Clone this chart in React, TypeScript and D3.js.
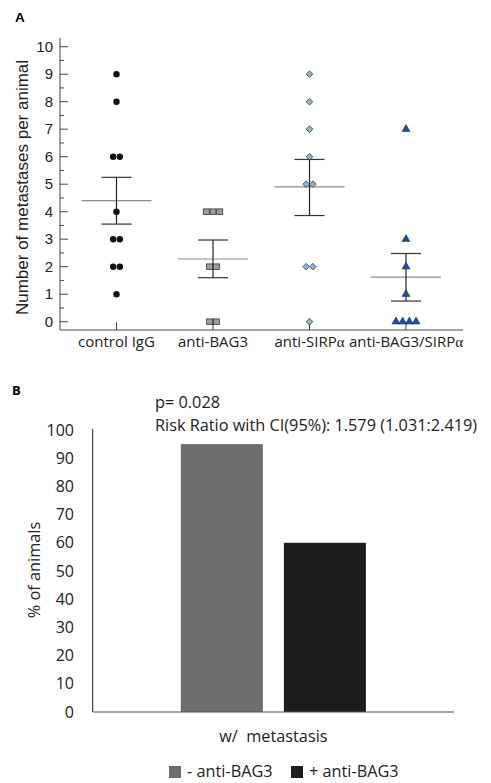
import React, { useEffect, useRef } from 'react';
import * as d3 from 'd3';

// Panel A: metastases per animal
const groups = ['control IgG', 'anti-BAG3', 'anti-SIRP', 'anti-BAG3/SIRP'];
const controlIgG = [9, 8, 6, 6, 4, 3, 3, 2, 2, 1];
const antiBAG3 = [4, 4, 4, 2, 2, 0, 0];
const antiSIRPa = [9, 8, 7, 6, 5, 5, 2, 2, 0];
const antiBoth = [7, 3, 2, 1, 0, 0, 0, 0];
const groupMeans = [4.4, 2.28, 4.9, 1.62];
const groupLow = [3.55, 1.6, 3.86, 0.75];
const groupHigh = [5.25, 2.97, 5.9, 2.48];
const yTicksA = [0, 1, 2, 3, 4, 5, 6, 7, 8, 9, 10];

// Panel B: % animals with metastasis
const categoriesB = ['w/  metastasis'];
const seriesB = ['- anti-BAG3', '+ anti-BAG3'];
const valuesB = [95, 60];
const yTicksB = [0, 10, 20, 30, 40, 50, 60, 70, 80, 90, 100];
const pText = 'p= 0.028';
const rrText = 'Risk Ratio with CI(95%): 1.579 (1.031:2.419)';

const App = () => {
  const ref = useRef<SVGSVGElement>(null);

  useEffect(() => {
    const svg = d3.select(ref.current);
    svg.selectAll('*').remove();

    const arial = 'Liberation Sans, Arial, sans-serif';
    const calibri = 'Open Sans, Lato, sans-serif';
    const fs = 16.3;

    // ---------- Panel A ----------
    svg.append('text').attr('x', 15).attr('y', 22).attr('font-family', arial)
      .attr('font-weight', 'bold').attr('font-size', 13.5).text('A');

    const yA = d3.scaleLinear().domain([0, 10]).range([321.7, 46.7]);
    const xA = d3.scalePoint().domain(groups).range([116.5, 406]);

    const gA = svg.append('g');
    // axes lines
    gA.append('line').attr('x1', 60).attr('x2', 60).attr('y1', 38).attr('y2', 330)
      .attr('stroke', '#444').attr('stroke-width', 1);
    gA.append('line').attr('x1', 60).attr('x2', 463).attr('y1', 330).attr('y2', 330)
      .attr('stroke', '#444').attr('stroke-width', 1);

    // y ticks (inside, with minor halves)
    d3.range(0, 10.01, 0.5).forEach(v => {
      const major = Number.isInteger(v);
      gA.append('line').attr('x1', 60).attr('x2', 60 + (major ? 8 : 4))
        .attr('y1', yA(v)).attr('y2', yA(v)).attr('stroke', '#444');
    });
    yTicksA.forEach(v => {
      gA.append('text').attr('x', 53).attr('y', yA(v)).attr('dy', '0.35em')
        .attr('text-anchor', 'end').attr('font-family', arial).attr('font-size', 15)
        .attr('fill', '#222').text(v);
    });

    gA.append('text').attr('transform', `translate(28,${(60 + 315) / 2}) rotate(-90)`)
      .attr('text-anchor', 'middle').attr('font-family', arial).attr('font-size', 17)
      .attr('fill', '#222').text('Number of metastases per animal');

    // x ticks and labels
    groups.forEach(g => {
      const x = xA(g)!;
      gA.append('line').attr('x1', x).attr('x2', x).attr('y1', 322).attr('y2', 330)
        .attr('stroke', '#444');
      const t = gA.append('text').attr('x', x).attr('y', 347).attr('text-anchor', 'middle')
        .attr('font-family', calibri).attr('font-size', 15).attr('fill', '#222');
      if (g.endsWith('SIRP')) {
        t.append('tspan').text(g);
        t.append('tspan').attr('font-family', 'Liberation Serif, serif').text('α');
      } else {
        t.text(g);
      }
    });

    const series = [controlIgG, antiBAG3, antiSIRPa, antiBoth];
    const gap = 6.7;

    // mean + sem
    groups.forEach((g, i) => {
      const x = xA(g)!;
      gA.append('line').attr('x1', x - 35).attr('x2', x + 35)
        .attr('y1', yA(groupMeans[i])).attr('y2', yA(groupMeans[i]))
        .attr('stroke', '#8c8c8c').attr('stroke-width', 1.2);
      gA.append('line').attr('x1', x).attr('x2', x)
        .attr('y1', yA(groupLow[i])).attr('y2', yA(groupHigh[i]))
        .attr('stroke', '#222').attr('stroke-width', 1.2);
      [groupLow[i], groupHigh[i]].forEach(v => {
        gA.append('line').attr('x1', x - 15).attr('x2', x + 15)
          .attr('y1', yA(v)).attr('y2', yA(v))
          .attr('stroke', '#333').attr('stroke-width', 1.2);
      });
    });

    // points spread side by side for equal values
    series.forEach((vals, i) => {
      const x0 = xA(groups[i])!;
      const counts = d3.rollup(vals, v => v.length, d => d);
      const seen = new Map<number, number>();
      vals.forEach(v => {
        const n = counts.get(v)!;
        const k = seen.get(v) || 0;
        seen.set(v, k + 1);
        const x = x0 + (k - (n - 1) / 2) * gap;
        const y = yA(v);
        if (i === 0) {
          gA.append('circle').attr('cx', x).attr('cy', y).attr('r', 3.2).attr('fill', '#111');
        } else if (i === 1) {
          gA.append('rect').attr('x', x - 3).attr('y', y - 2.8).attr('width', 6).attr('height', 5.6)
            .attr('fill', '#9d9d9d').attr('stroke', '#333').attr('stroke-width', 0.8);
        } else if (i === 2) {
          gA.append('path').attr('d', d3.symbol(d3.symbolDiamond2, 28)()!)
            .attr('transform', `translate(${x},${y})`)
            .attr('fill', '#88b6e0').attr('stroke', '#333').attr('stroke-width', 0.8);
        } else {
          gA.append('path').attr('d', d3.symbol(d3.symbolTriangle, 28)()!)
            .attr('transform', `translate(${x},${y})`)
            .attr('fill', '#1e4f9e').attr('stroke', '#0e2a5a').attr('stroke-width', 0.5);
        }
      });
    });

    // ---------- Panel B ----------
    svg.append('text').attr('x', 12).attr('y', 395).attr('font-family', calibri)
      .attr('font-weight', 'bold').attr('font-size', 13).text('B');

    const yB = d3.scaleLinear().domain([0, 100]).range([712, 430]);
    const x0 = d3.scaleBand().domain(categoriesB).range([92.7, 454]).paddingOuter(0.476);
    const x1 = d3.scaleBand().domain(seriesB).range([0, x0.bandwidth()]).paddingInner(0.204);
    const colorB = d3.scaleOrdinal<string>().domain(seriesB).range(['#6f6d6e', '#1c1b1d']);

    const gB = svg.append('g');
    gB.append('text').attr('x', 155).attr('y', 408).attr('font-family', calibri)
      .attr('font-size', fs).attr('fill', '#222').text(pText);
    gB.append('text').attr('x', 155).attr('y', 431).attr('font-family', calibri)
      .attr('font-size', fs).attr('fill', '#222').text(rrText);

    yTicksB.forEach(v => {
      gB.append('text').attr('x', 74).attr('y', yB(v)).attr('dy', '0.35em')
        .attr('text-anchor', 'end').attr('font-family', calibri).attr('font-size', 16)
        .attr('fill', '#222').text(v);
    });

    gB.append('text').attr('transform', `translate(40,570) rotate(-90)`)
      .attr('text-anchor', 'middle').attr('font-family', calibri).attr('font-size', fs)
      .attr('fill', '#222').text('% of animals');

    categoriesB.forEach(c => {
      seriesB.forEach((s, i) => {
        gB.append('rect').attr('x', x0(c)! + x1(s)!).attr('width', x1.bandwidth())
          .attr('y', yB(valuesB[i])).attr('height', yB(0) - yB(valuesB[i]))
          .attr('fill', colorB(s));
      });
      gB.append('text').attr('x', x0(c)! + x0.bandwidth() / 2).attr('y', 742)
        .attr('text-anchor', 'middle').attr('font-family', calibri).attr('font-size', fs)
        .attr('fill', '#222').style('white-space', 'pre').text(c);
    });

    gB.append('line').attr('x1', 92.7).attr('x2', 92.7).attr('y1', 429).attr('y2', 712)
      .attr('stroke', '#222').attr('stroke-width', 1);
    gB.append('line').attr('x1', 92.7).attr('x2', 454).attr('y1', 712).attr('y2', 712)
      .attr('stroke', '#555').attr('stroke-width', 1.2);

    // legend
    const legX = [169, 291];
    seriesB.forEach((s, i) => {
      gB.append('rect').attr('x', legX[i]).attr('y', 766).attr('width', 12).attr('height', 12)
        .attr('fill', colorB(s));
      gB.append('text').attr('x', legX[i] + 18).attr('y', 777).attr('font-family', calibri)
        .attr('font-size', fs).attr('fill', '#222').text(s);
    });
  }, []);

  return (
    <svg ref={ref} width={491} height={783}
      style={{ position: 'absolute', left: 0, top: 0, display: 'block' }} />
  );
};

export default App;
